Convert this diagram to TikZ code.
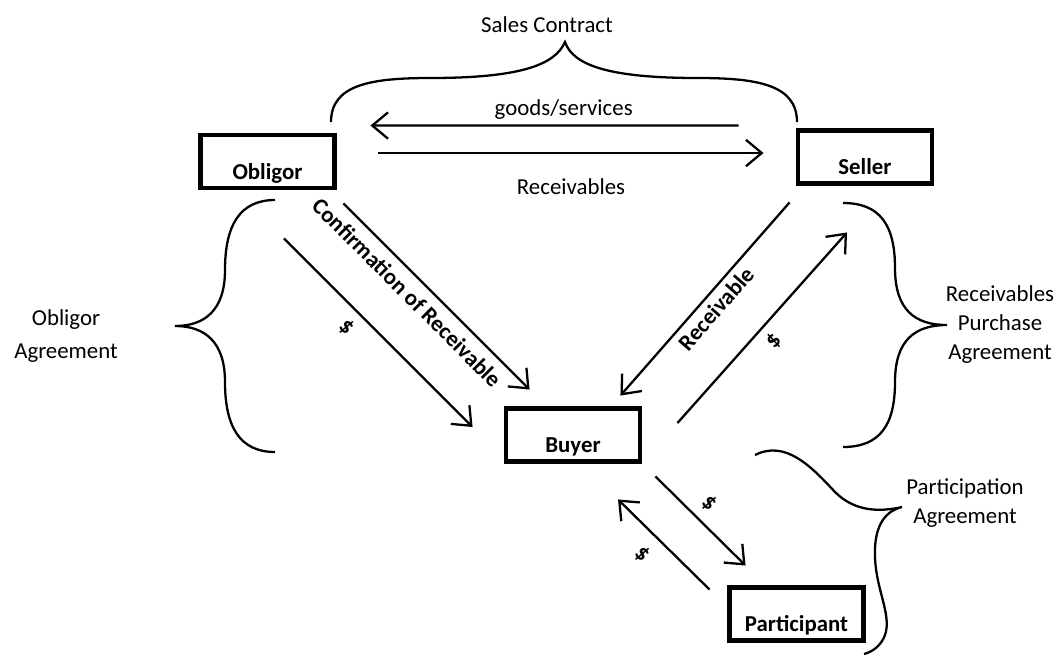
\documentclass[tikz,border=0pt]{standalone}
\usepackage{fontspec}
\setmainfont{Carlito}
\usetikzlibrary{arrows.meta}
\tikzset{
    >={Straight Barb[length=9pt,width=15pt]}
}

\begin{document}
\begin{tikzpicture}[
    x=0.02cm, y=-0.02cm,
    font=\fontsize{13}{16.5}\selectfont,
    party/.style={draw, line width=2.8pt, minimum width=2.68cm, minimum height=1.06cm, inner sep=2pt,
        font=\fontsize{13}{16.5}\selectfont\bfseries, text height=0.78cm, text depth=0.07cm},
    flow/.style={->, line width=1.3pt},
    curly/.style={line width=1.3pt},
    tag/.style={inner sep=1pt},
    lbl/.style={inner sep=1pt, font=\fontsize{13}{16.5}\selectfont\bfseries},
    agr/.style={align=center}
]
\useasboundingbox (0,0) rectangle (1059,654);

\node[party] (obligor) at (267.5,161.5) {Obligor};
\node[party] (seller) at (865,157) {Seller};
\node[party] (buyer) at (573,435) {Buyer};
\node[party] (participant) at (796.5,614) {Participant};

% Agreements
\node[agr] (salescontract) at (547,25) {Sales Contract};
\node[agr] (obligoragr) at (66,336) {Obligor\\[2.5pt]Agreement};
\node[agr] (purchaseagr) at (1000,325) {Receivables\\Purchase\\Agreement};
\node[agr] (participationagr) at (965,503) {Participation\\Agreement};

% Arrows
\draw[flow] ([shift={(-57,-2.5)}]seller.north west) -- ([shift={(33.5,-7)}]obligor.north east)
    node[tag, pos=0.475, above=2pt] {goods/services};
\draw[flow] ([shift={(41.5,-8.5)}]obligor.east) -- ([shift={(-32,-4)}]seller.west)
    node[tag, midway, below=13pt] {Receivables};
\draw[flow] ([shift={(6.5,13)}]obligor.south east) -- ([shift={(26,-16.5)}]buyer.north west)
    node[lbl, pos=0.41, sloped, below=4pt] {Confirmation of Receivable};
\draw[flow] ([shift={(16.5,48)}]obligor.south) -- ([shift={(-31,-8)}]buyer.west)
    node[lbl, pos=0.4, sloped, below=4pt] {\$};
\draw[flow] ([shift={(-6,16.5)}]seller.south west) -- ([shift={(-22,-10.5)}]buyer.north east)
    node[lbl, midway, sloped, below=2pt] {Receivable};
\draw[flow] ([shift={(35,-12)}]buyer.east) -- ([shift={(-18,46.5)}]seller.south)
    node[lbl, pos=0.49, sloped, below=3.5pt] {\$};
\draw[flow] ([shift={(13,12.5)}]buyer.south east) -- ([shift={(18.5,-19.5)}]participant.north west)
    node[lbl, pos=0.45, sloped, above=4pt] {\$};
\draw[flow] ([shift={(-17.5,4.5)}]participant.north west) -- ([shift={(45,35.5)}]buyer.south)
    node[lbl, pos=0.57, sloped, below=6pt] {\$};

% Braces
\draw[curly] (331,122) .. controls (331,85) and (370,78) .. (430,78)
    .. controls (520,78) and (555,65) .. (565,42)
    .. controls (573,65) and (608,78) .. (698,78)
    .. controls (758,78) and (797,85) .. (797,122);
\draw[curly] (275,200) .. controls (240,200) and (225,225) .. (225,270)
    .. controls (225,310) and (205,326) .. (175,326)
    .. controls (205,326) and (225,342) .. (225,382)
    .. controls (225,427) and (240,452) .. (275,452);
\draw[curly] (843,203) .. controls (880,203) and (895,225) .. (895,268)
    .. controls (895,310) and (915,325) .. (947,325)
    .. controls (915,325) and (895,340) .. (895,382)
    .. controls (895,425) and (880,447) .. (843,447);
\draw[curly] (755,455) .. controls (785,440) and (810,465) .. (835,492)
    .. controls (855,512) and (880,512) .. (902,507)
    .. controls (882,512) and (874,530) .. (875,557)
    .. controls (876,590) and (892,615) .. (885,635)
    .. controls (881,646) and (872,652) .. (864,654);

\end{tikzpicture}
\end{document}
